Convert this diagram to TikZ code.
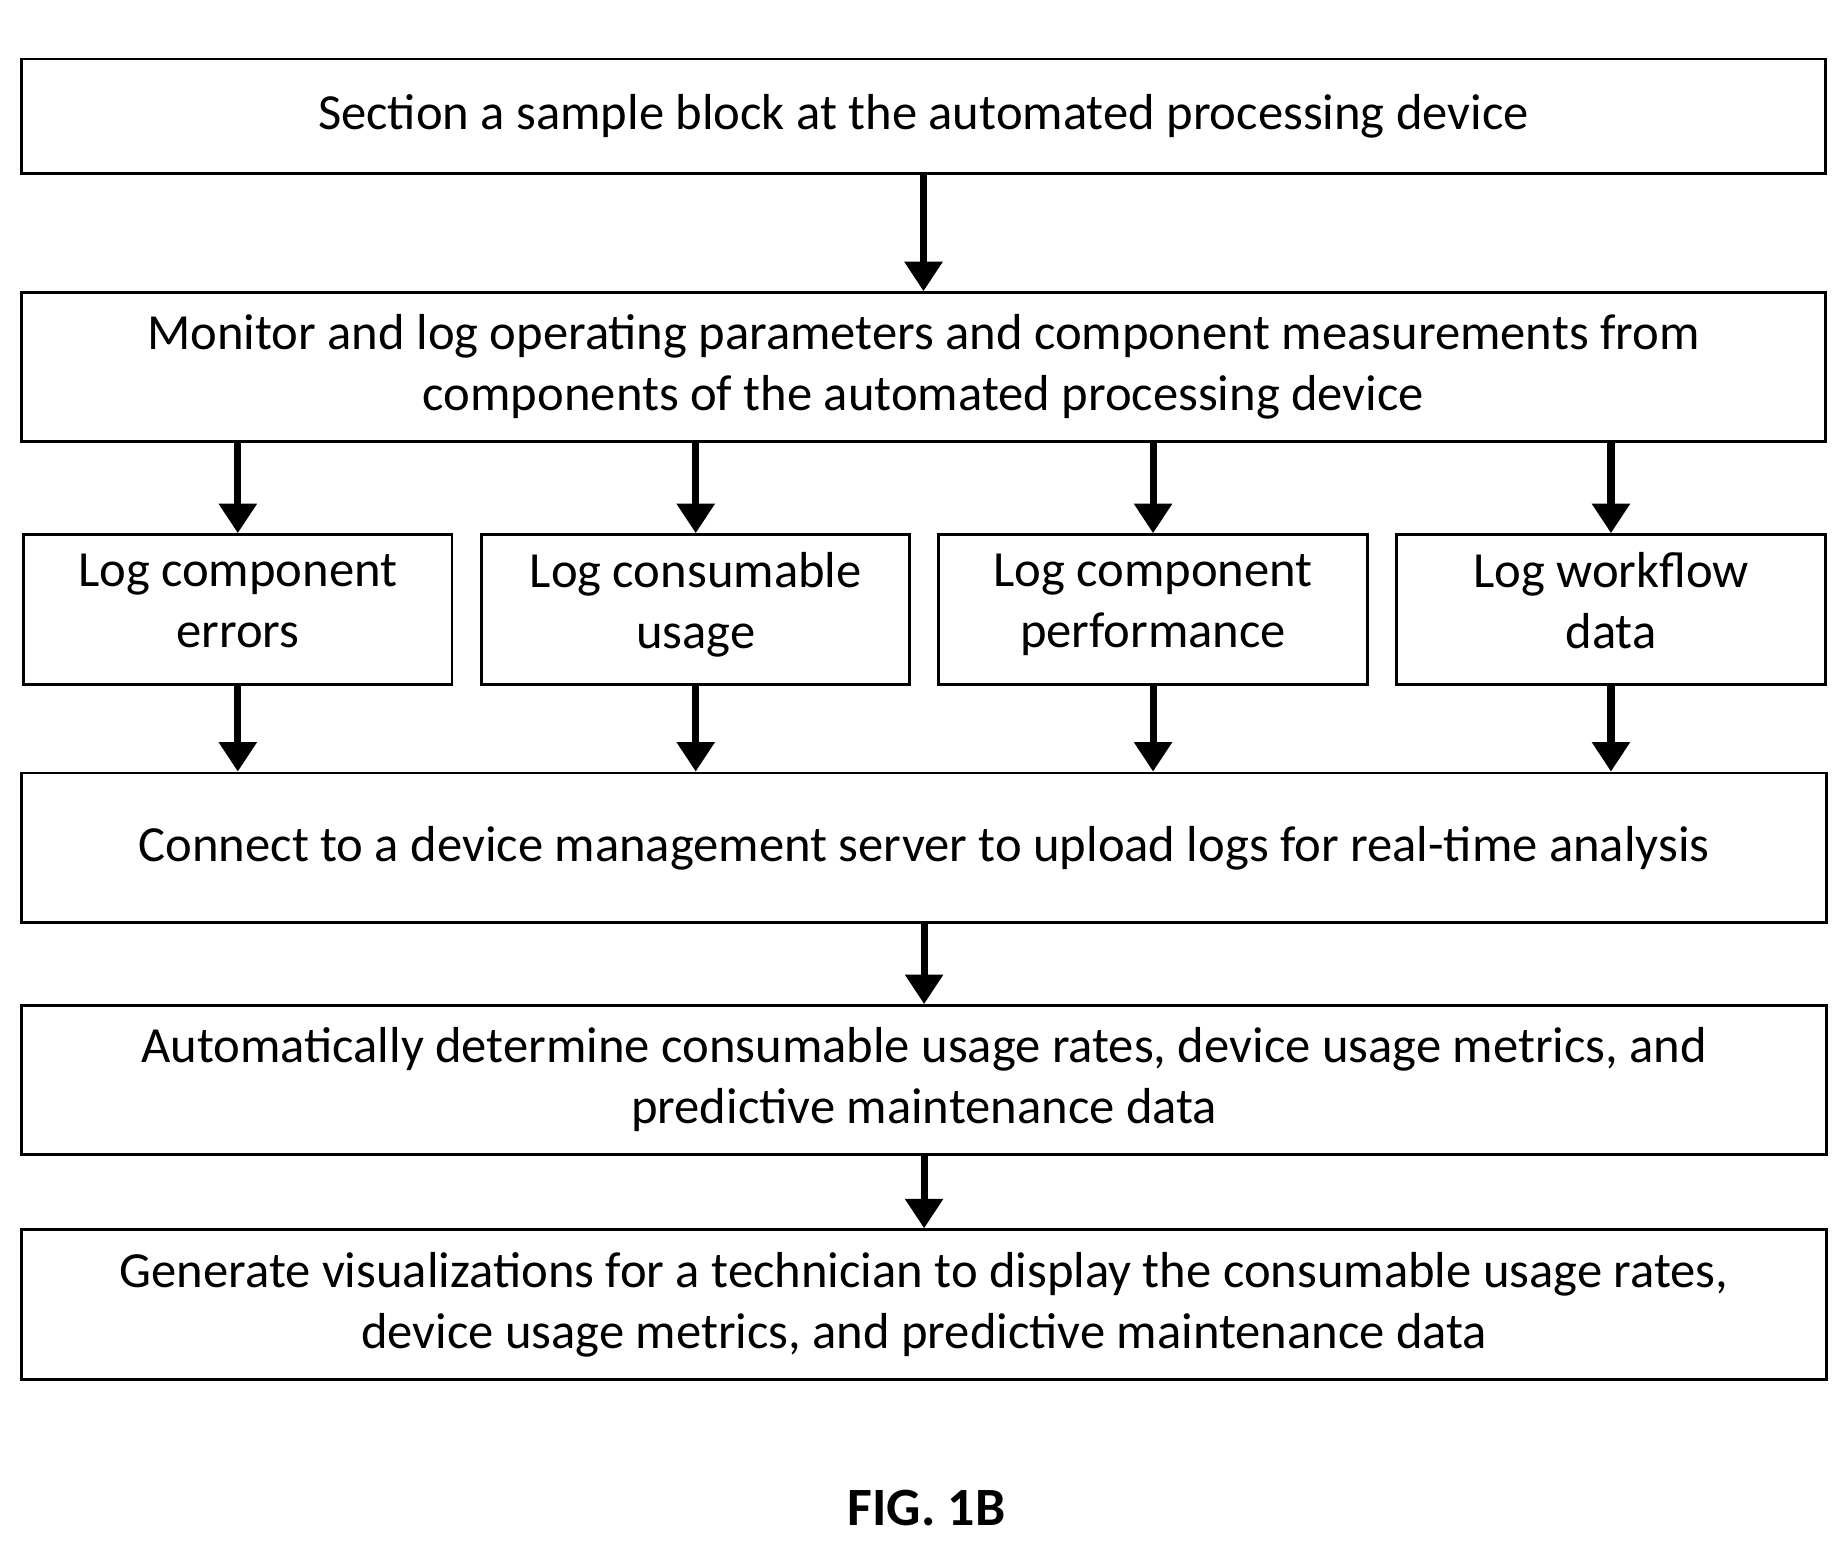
\documentclass[tikz,border=0pt]{standalone}
\usepackage{fontspec}
\setmainfont{Carlito}
\usetikzlibrary{arrows.meta, positioning}

\tikzset{
  stage/.style={draw, line width=1.4pt, align=center, inner sep=0pt,
    font=\fontsize{24.4}{29.5}\selectfont},
  wide/.style={stage, minimum width=30.58cm},
  small/.style={stage, minimum width=7.26cm, minimum height=2.54cm},
  flow/.style={line width=3.4pt, -{Triangle[length=0.5cm, width=0.62cm]}}
}

\begin{document}
\begin{tikzpicture}
    \useasboundingbox (0,0) rectangle (31.3,-26.14);

    \node[wide, minimum height=1.94cm] (section) at (15.65,-1.97) {Section a sample block at the automated processing device};
    \node[wide, minimum height=2.52cm] (monitor) at (15.65,-6.22) {Monitor and log operating parameters and component measurements from\\components of the automated processing device};

    \node[small] (errors) at (4.03,-10.33) {Log component\\errors\strut};
    \node[small] (usage) at (11.79,-10.33) {Log consumable\\usage\strut};
    \node[small] (perf) at (19.54,-10.33) {Log component\\performance\strut};
    \node[small] (workflow) at (27.30,-10.33) {Log workflow\\data\strut};

    \node[wide, minimum height=2.54cm] (connect) at (15.66,-14.37) {Connect to a device management server to upload logs for real-time analysis};
    \node[wide, minimum height=2.52cm] (determine) at (15.66,-18.30) {Automatically determine consumable usage rates, device usage metrics, and\\predictive maintenance data};
    \node[wide, minimum height=2.54cm] (generate) at (15.66,-22.11) {Generate visualizations for a technician to display the consumable usage rates,\\device usage metrics, and predictive maintenance data};

    \node[font=\fontsize{26}{30}\selectfont\bfseries] (fig) at (15.7,-25.56) {FIG. 1B};

    \draw[flow] (section.south) -- (monitor.north);
    \foreach \n in {errors, usage, perf, workflow} {
        \draw[flow] (monitor.south -| \n) -- (\n.north);
        \draw[flow] (\n.south) -- (connect.north -| \n);
    }
    \draw[flow] (connect.south) -- (determine.north);
    \draw[flow] (determine.south) -- (generate.north);

\end{tikzpicture}
\end{document}
